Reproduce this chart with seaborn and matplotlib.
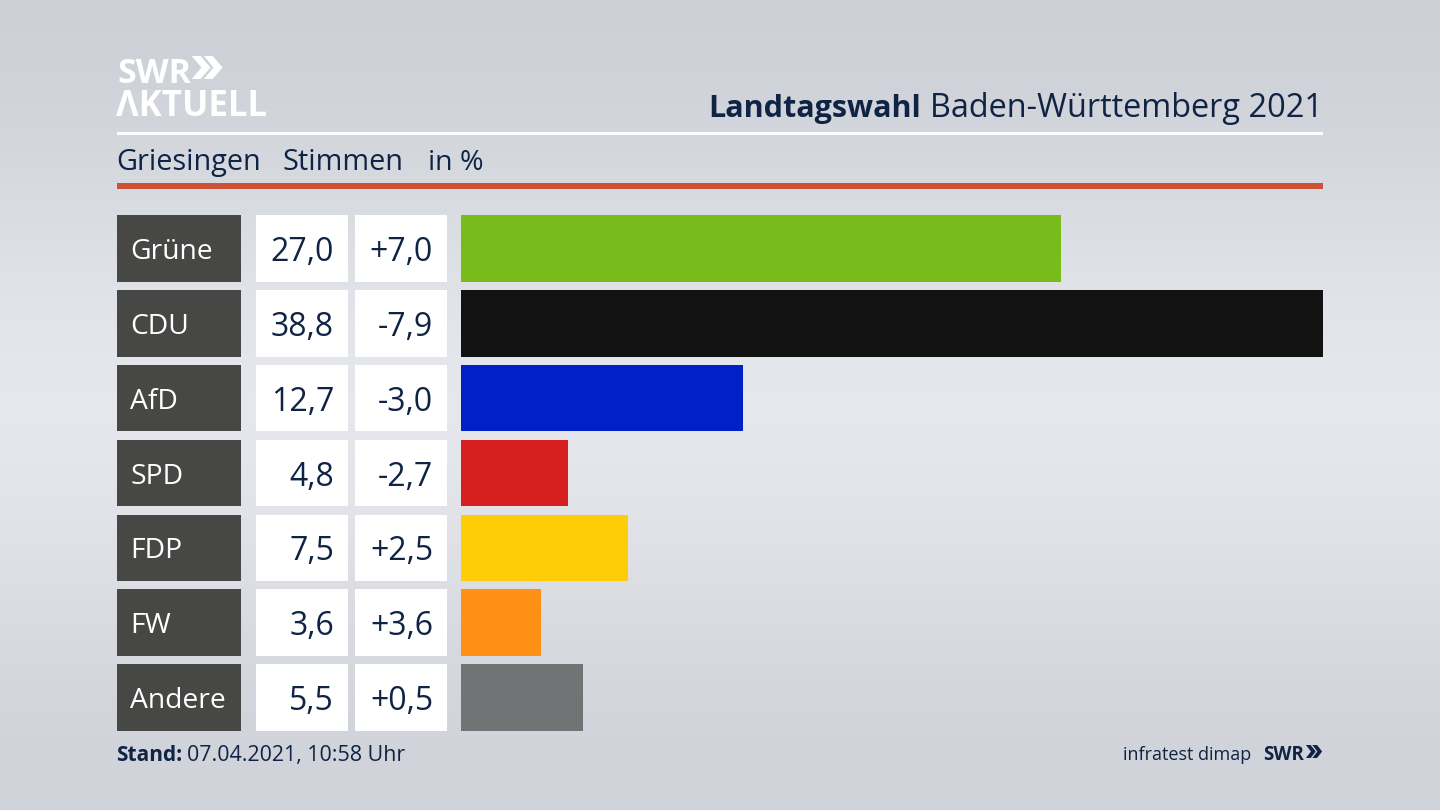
import numpy as np
import pandas as pd
import seaborn as sns
from matplotlib import pyplot as plt
from matplotlib.patches import Rectangle
from matplotlib.transforms import blended_transform_factory

parties = ["Grüne", "CDU", "AfD", "SPD", "FDP", "FW", "Andere"]
shares = [27.0, 38.8, 12.7, 4.8, 7.5, 3.6, 5.5]
changes = ["+7,0", "-7,9", "-3,0", "-2,7", "+2,5", "+3,6", "+0,5"]
colors = ["#78bc1b", "#121212", "#0020c8", "#d61f1f", "#ffcc08", "#ff9015", "#727375"]
bg_stops = ["#cdd1d7", "#dcdfe4", "#e9ebf0", "#dee0e6", "#cfd2d8"]

W, H = 1440, 810
NAVY = "#0f2344"

sns.set_theme(style="white")
plt.rcParams["font.family"] = ["Open Sans", "DejaVu Sans"]

fig = plt.figure(figsize=(W / 100, H / 100), dpi=100)

def fx(px):
    return px / W

def fy(py):
    return 1 - py / H

# background
bg = fig.add_axes([0, 0, 1, 1], zorder=0)
rgb = np.array([plt.matplotlib.colors.to_rgb(c) for c in bg_stops])
bg.imshow(rgb.reshape(-1, 1, 3), aspect="auto", interpolation="bicubic", extent=[0, 1, 0, 1])
bg.axis("off")

# bars
ax = fig.add_axes([fx(461), fy(735), fx(1323 - 461), (735 - 211) / H], zorder=2)
df = pd.DataFrame({"party": parties, "share": shares})
sns.barplot(data=df, x="share", y="party", hue="party", palette=colors, legend=False,
            width=0.89, saturation=1, linewidth=0, ax=ax)
ax.set_xlim(0, max(shares))
ax.set_ylim(len(parties) - 0.5, -0.5)
ax.axis("off")

# table cells left of the bars
trans = blended_transform_factory(fig.transFigure, ax.transData)
for i, party in enumerate(parties):
    for x0, x1, col in [(117, 241, "#474745"), (256, 348, "white"), (355, 447, "white")]:
        ax.add_patch(Rectangle((fx(x0), i - 0.445), fx(x1 - x0), 0.89, transform=trans,
                               facecolor=col, edgecolor="none", clip_on=False))
    ax.text(fx(130), i, party, transform=trans, color="white", fontsize=20.3, va="center_baseline", ha="left")
    ax.text(fx(334), i, f"{shares[i]:.1f}".replace(".", ","), transform=trans, color=NAVY,
            fontsize=23, va="center_baseline", ha="right")
    ax.text(fx(433), i, changes[i], transform=trans, color=NAVY, fontsize=23,
            va="center_baseline", ha="right")

# header lines
fig.patches.append(Rectangle((fx(117), fy(135)), fx(1206), 3 / H, transform=fig.transFigure,
                             facecolor="white", edgecolor="none", zorder=3))
fig.patches.append(Rectangle((fx(117), fy(189)), fx(1206), 6 / H, transform=fig.transFigure,
                             facecolor="#cd5338", edgecolor="none", zorder=3))

# logo
fig.text(fx(117), fy(83), "SWR", color="white", fontsize=24.5, fontweight="bold", va="baseline", zorder=4)
fig.text(fx(189), fy(83), "»", color="white", fontsize=36, family="Inter", fontweight="heavy", va="baseline", zorder=4)
fig.text(fx(116), fy(116), "ΛKTUELL", color="white", fontsize=25, fontweight="bold", va="baseline", zorder=4)

# title
fig.text(fx(1323), fy(117), "Baden-Württemberg 2021", color=NAVY, fontsize=23.4, ha="right", va="baseline", zorder=4)
fig.text(fx(921), fy(117), "Landtagswahl", color=NAVY, fontsize=22, fontweight="bold", ha="right", va="baseline", zorder=4)

# subtitle
fig.text(fx(116), fy(170), "Griesingen", color=NAVY, fontsize=20.8, va="baseline", zorder=4)
fig.text(fx(283), fy(170), "Stimmen", color=NAVY, fontsize=20.8, va="baseline", zorder=4)
fig.text(fx(428), fy(170), "in %", color=NAVY, fontsize=20.5, va="baseline", zorder=4)

# footer
fig.text(fx(116), fy(761), "Stand:", color=NAVY, fontsize=15, fontweight="bold", va="baseline", zorder=4)
fig.text(fx(187), fy(761), "07.04.2021, 10:58 Uhr", color=NAVY, fontsize=15.4, va="baseline", zorder=4)
fig.text(fx(1251), fy(760), "infratest dimap", color=NAVY, fontsize=13, ha="right", va="baseline", zorder=4)
fig.text(fx(1263), fy(760), "SWR", color=NAVY, fontsize=13.5, fontweight="bold", va="baseline", zorder=4)
fig.text(fx(1304), fy(760), "»", color=NAVY, fontsize=19, family="Inter", fontweight="heavy", va="baseline", zorder=4)

fig.savefig("out.png", dpi=100)
